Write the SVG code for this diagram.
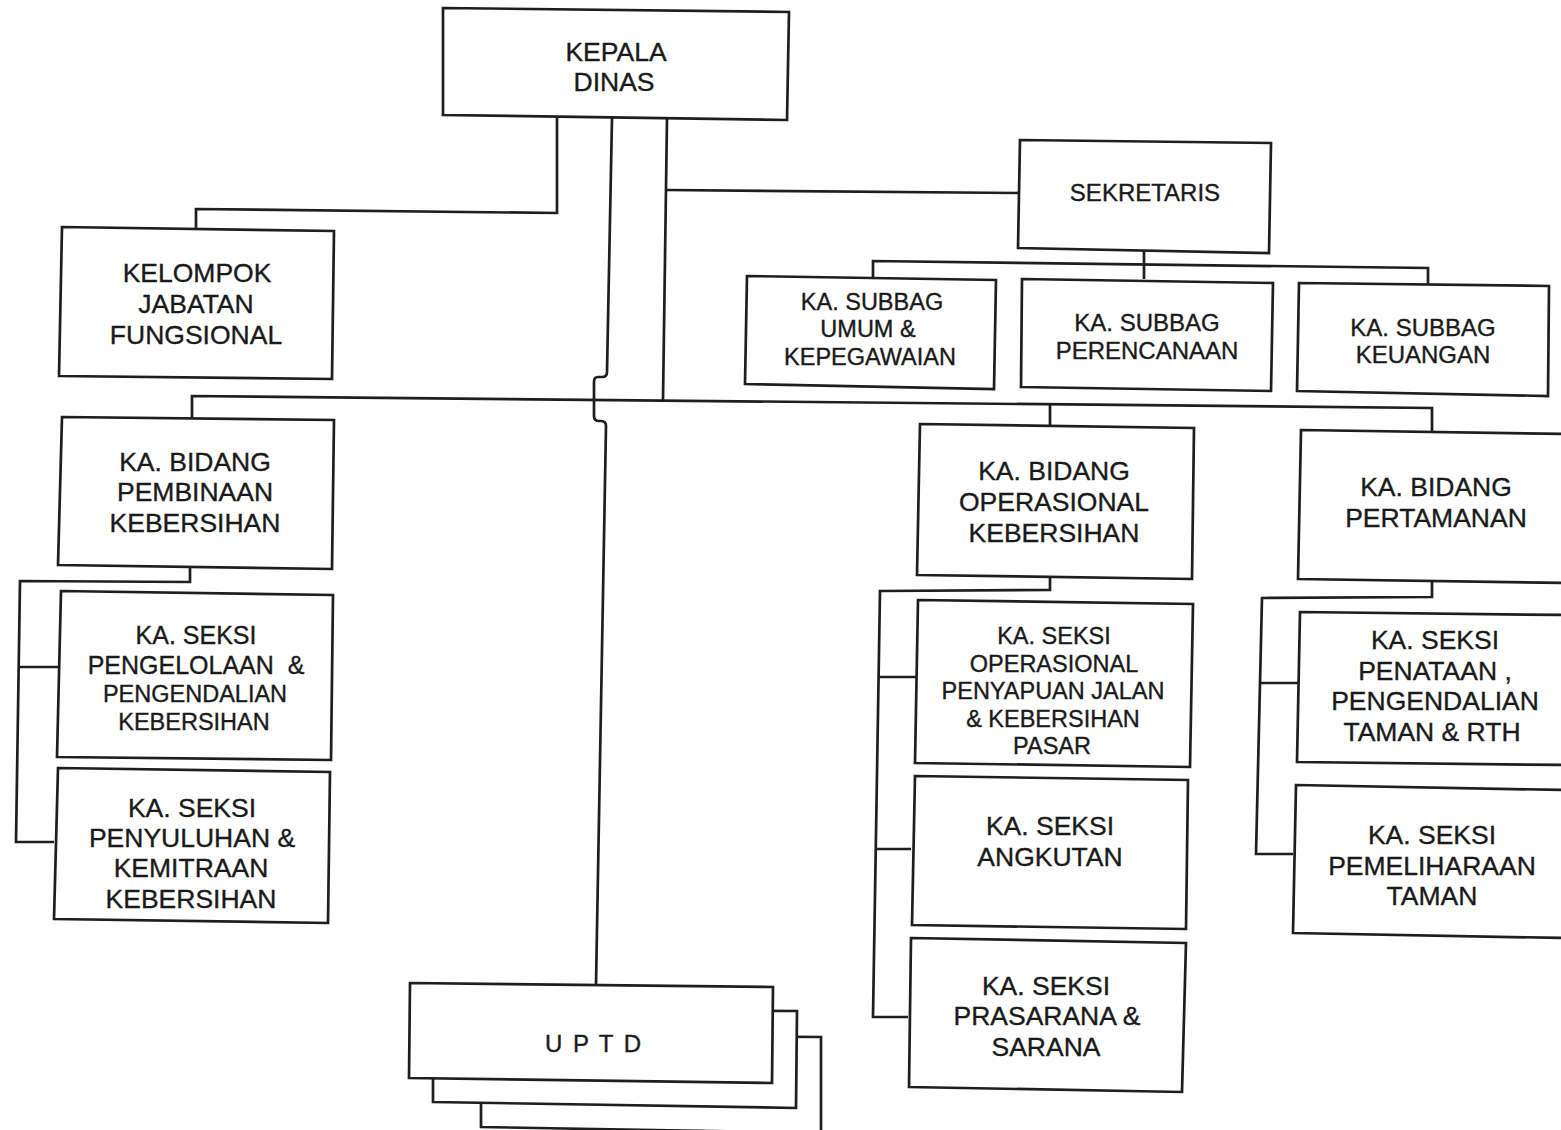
<svg xmlns="http://www.w3.org/2000/svg" width="1561" height="1130" viewBox="0 0 1561 1130">
  <style>
    .box { fill: #ffffff; stroke: #1e1e1e; stroke-width: 2.7; stroke-linejoin: miter; }
    .ln { fill: none; stroke: #1e1e1e; stroke-width: 2.7; stroke-linejoin: miter; }
    text { font-family: "Liberation Sans", Arial, sans-serif; fill: #1a1a1a; stroke: #1a1a1a; stroke-width: 0.35; text-anchor: middle; }
    .t26 { font-size: 26.5px; }
    .t24 { font-size: 24px; }
    .t23 { font-size: 23.5px; }
  </style>
  <rect width="1561" height="1130" fill="#ffffff"/>

  <!-- connectors -->
  <g id="connectors">
    <!-- Kepala Dinas to Kelompok Jabatan Fungsional -->
    <polyline class="ln" points="557,118 557,213 196,209 196,228"/>
    <!-- Kepala Dinas to UPTD, hopping over the bidang line -->
    <path class="ln" d="M612,118 L607,372 Q607,377 602,377 L598,377 Q594,377 594,382 L594,416 Q594,421 599,421 L601,421 Q606,421 606,426 L596,985"/>
    <!-- Kepala Dinas trunk to Sekretaris and the bidang line -->
    <polyline class="ln" points="667,118 663,400"/>
    <polyline class="ln" points="667,190 1020,193"/>
    <!-- bidang line -->
    <polyline class="ln" points="192,418 192,396 1432,408 1432,432"/>
    <polyline class="ln" points="1050,403 1050,426"/>
    <!-- Sekretaris to subbagian -->
    <polyline class="ln" points="1144,251 1144,279"/>
    <polyline class="ln" points="873,278 873,261 1428,268 1428,285"/>
    <!-- Pembinaan Kebersihan to seksi -->
    <polyline class="ln" points="190,567 190,582 20,581 16,842 54,842"/>
    <polyline class="ln" points="19,667 60,667"/>
    <!-- Operasional Kebersihan to seksi -->
    <polyline class="ln" points="1050,577 1050,590 880,591 873,1017 908,1017"/>
    <polyline class="ln" points="878,677 917,677"/>
    <polyline class="ln" points="875,849 911,849"/>
    <!-- Pertamanan to seksi -->
    <polyline class="ln" points="1432,581 1432,597 1262,598 1256,854 1293,854"/>
    <polyline class="ln" points="1260,683 1298,683"/>
  </g>

  <g id="kepala-dinas">
    <polygon class="box" points="443,8 789,12 787,120 443,115"/>
    <text class="t26" x="616" y="61">KEPALA</text>
    <text class="t26" x="614" y="91">DINAS</text>
  </g>

  <g id="kelompok-jabatan-fungsional">
    <polygon class="box" points="62,227 334,231 332,379 59,376"/>
    <text class="t26" x="197" y="282">KELOMPOK</text>
    <text class="t26" x="196" y="313">JABATAN</text>
    <text class="t26" x="196" y="344">FUNGSIONAL</text>
  </g>

  <g id="sekretaris">
    <polygon class="box" points="1020,140 1271,143 1269,253 1018,248"/>
    <text class="t24" x="1145" y="201">SEKRETARIS</text>
  </g>

  <g id="subbag-umum">
    <polygon class="box" points="747,276 996,280 994,389 745,384"/>
    <text class="t23" x="872" y="310">KA. SUBBAG</text>
    <text class="t23" x="868" y="337">UMUM &amp;</text>
    <text class="t23" x="870" y="365">KEPEGAWAIAN</text>
  </g>

  <g id="subbag-perencanaan">
    <polygon class="box" points="1022,279 1273,283 1271,391 1021,387"/>
    <text class="t24" x="1147" y="331">KA. SUBBAG</text>
    <text class="t24" x="1147" y="359">PERENCANAAN</text>
  </g>

  <g id="subbag-keuangan">
    <polygon class="box" points="1299,283 1549,286 1548,396 1297,391"/>
    <text class="t24" x="1423" y="336">KA. SUBBAG</text>
    <text class="t24" x="1423" y="363">KEUANGAN</text>
  </g>

  <g id="bidang-pembinaan">
    <polygon class="box" points="62,417 334,420 332,569 58,565"/>
    <text class="t26" x="195" y="471">KA. BIDANG</text>
    <text class="t26" x="195" y="501">PEMBINAAN</text>
    <text class="t26" x="195" y="532">KEBERSIHAN</text>
  </g>

  <g id="seksi-pengelolaan">
    <polygon class="box" points="61,591 333,595 331,760 57,757"/>
    <text class="t24" x="196" y="644" style="font-size:25px">KA. SEKSI</text>
    <text class="t24" x="196" y="674" style="font-size:25px" xml:space="preserve">PENGELOLAAN  &amp;</text>
    <text class="t23" x="195" y="702">PENGENDALIAN</text>
    <text class="t23" x="194" y="730">KEBERSIHAN</text>
  </g>

  <g id="seksi-penyuluhan">
    <polygon class="box" points="58,768 330,772 328,923 54,919"/>
    <text class="t26" x="192" y="817">KA. SEKSI</text>
    <text class="t26" x="192" y="847">PENYULUHAN &amp;</text>
    <text class="t26" x="191" y="877">KEMITRAAN</text>
    <text class="t26" x="191" y="908">KEBERSIHAN</text>
  </g>

  <g id="bidang-operasional">
    <polygon class="box" points="920,424 1194,428 1192,579 917,575"/>
    <text class="t26" x="1054" y="480">KA. BIDANG</text>
    <text class="t26" x="1054" y="511">OPERASIONAL</text>
    <text class="t26" x="1054" y="542">KEBERSIHAN</text>
  </g>

  <g id="seksi-operasional-penyapuan">
    <polygon class="box" points="918,600 1193,604 1190,767 915,763"/>
    <text class="t23" x="1054" y="644">KA. SEKSI</text>
    <text class="t23" x="1054" y="672">OPERASIONAL</text>
    <text class="t23" x="1053" y="699">PENYAPUAN JALAN</text>
    <text class="t23" x="1053" y="727">&amp; KEBERSIHAN</text>
    <text class="t23" x="1052" y="754">PASAR</text>
  </g>

  <g id="seksi-angkutan">
    <polygon class="box" points="915,776 1188,780 1186,929 912,925"/>
    <text class="t26" x="1050" y="835">KA. SEKSI</text>
    <text class="t26" x="1050" y="866">ANGKUTAN</text>
  </g>

  <g id="seksi-prasarana">
    <polygon class="box" points="911,938 1186,943 1182,1092 909,1087"/>
    <text class="t26" x="1046" y="995">KA. SEKSI</text>
    <text class="t26" x="1047" y="1025">PRASARANA &amp;</text>
    <text class="t26" x="1046" y="1056">SARANA</text>
  </g>

  <g id="bidang-pertamanan">
    <polygon class="box" points="1301,430 1564,434 1564,583 1298,579"/>
    <text class="t26" x="1436" y="496">KA. BIDANG</text>
    <text class="t26" x="1436" y="527">PERTAMANAN</text>
  </g>

  <g id="seksi-penataan">
    <polygon class="box" points="1300,612 1564,615 1564,765 1297,762"/>
    <text class="t26" x="1435" y="649">KA. SEKSI</text>
    <text class="t26" x="1435" y="680">PENATAAN ,</text>
    <text class="t26" x="1435" y="710">PENGENDALIAN</text>
    <text class="t26" x="1432" y="741">TAMAN &amp; RTH</text>
  </g>

  <g id="seksi-pemeliharaan">
    <polygon class="box" points="1296,785 1564,790 1564,938 1293,933"/>
    <text class="t26" x="1432" y="844">KA. SEKSI</text>
    <text class="t26" x="1432" y="875">PEMELIHARAAN</text>
    <text class="t26" x="1432" y="905">TAMAN</text>
  </g>

  <g id="uptd">
    <!-- stacked sheets, back to front -->
    <polygon class="box" points="481,1035 821,1037 821,1133 481,1127"/>
    <polygon class="box" points="433,1009 797,1011 796,1108 433,1102"/>
    <polygon class="box" points="410,983 773,987 772,1083 409,1078"/>
    <text class="t24" x="594" y="1052" style="letter-spacing:2px">U P T D</text>
  </g>
</svg>
